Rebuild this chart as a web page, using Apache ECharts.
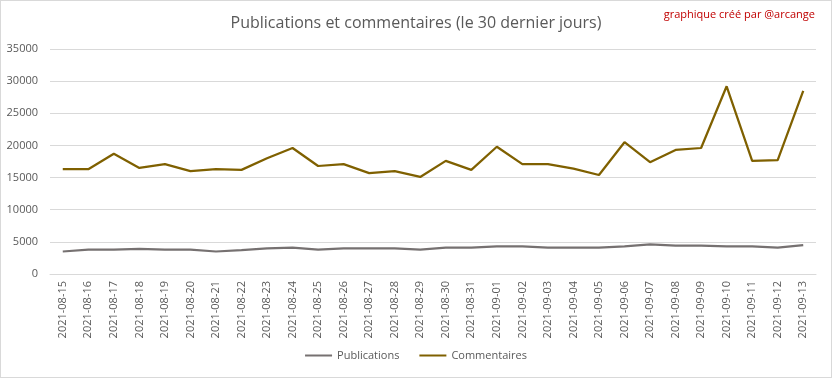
<!DOCTYPE html>
<html><head><meta charset="utf-8">
<script src="https://cdn.jsdelivr.net/npm/echarts@6/dist/echarts.min.js"></script>
<style>html,body{margin:0;padding:0;background:#fff}#wrap{position:relative;width:832px;height:378px}#c{width:832px;height:378px}#frame{position:absolute;left:0;top:0;width:832px;height:378px;box-sizing:border-box;border:1px solid #d9d9d9;pointer-events:none}</style>
</head><body><div id="wrap"><div id="c"></div><div id="frame"></div></div>
<script>
const categories = ["2021-08-15","2021-08-16","2021-08-17","2021-08-18","2021-08-19","2021-08-20","2021-08-21","2021-08-22","2021-08-23","2021-08-24","2021-08-25","2021-08-26","2021-08-27","2021-08-28","2021-08-29","2021-08-30","2021-08-31","2021-09-01","2021-09-02","2021-09-03","2021-09-04","2021-09-05","2021-09-06","2021-09-07","2021-09-08","2021-09-09","2021-09-10","2021-09-11","2021-09-12","2021-09-13"];
const publications = [3500,3800,3800,3900,3800,3800,3500,3700,4000,4100,3800,4000,4000,4000,3800,4100,4100,4300,4300,4100,4100,4100,4300,4600,4400,4400,4300,4300,4100,4500];
const commentaires = [16300,16300,18700,16500,17100,16000,16300,16200,18000,19600,16800,17100,15700,16000,15100,17600,16200,19800,17100,17100,16400,15400,20500,17400,19300,19600,29200,17600,17700,28500];
const chart = echarts.init(document.getElementById('c'));
chart.setOption({
  animation:false,
  title:{text:'Publications et commentaires (le 30 dernier jours)',left:'center',top:10,
    textStyle:{fontFamily:'Open Sans',fontWeight:'normal',fontSize:16,color:'#595959'}},
  graphic:[
    {type:'text',right:17,top:9,style:{text:'graphique créé par @arcange',fill:'#c00000',font:'11px "Open Sans"'}}],
  legend:{bottom:12,left:'center',itemWidth:27,itemHeight:2,itemGap:20,icon:'rect',
    textStyle:{fontFamily:'Open Sans',fontSize:11,color:'#595959'},
    data:['Publications','Commentaires']},
  grid:{left:50,right:16,top:49,bottom:104},
  xAxis:{type:'category',data:categories,boundaryGap:true,
    axisLine:{lineStyle:{color:'#d9d9d9'}},axisTick:{show:false},
    axisLabel:{rotate:90,fontFamily:'Open Sans',fontSize:11,color:'#595959',margin:7,interval:0}},
  yAxis:{type:'value',min:0,max:35000,interval:5000,
    axisLine:{show:false},axisTick:{show:false},
    axisLabel:{fontFamily:'Open Sans',fontSize:11,color:'#595959',margin:12,formatter:v=>String(v)},
    splitLine:{lineStyle:{color:'#d9d9d9'}}},
  series:[
    {name:'Publications',type:'line',data:publications,symbol:'none',lineStyle:{width:2.25,color:'#767171'},itemStyle:{color:'#767171'}},
    {name:'Commentaires',type:'line',data:commentaires,symbol:'none',lineStyle:{width:2.25,color:'#7f6000'},itemStyle:{color:'#7f6000'}}
  ]
});
</script></body></html>
